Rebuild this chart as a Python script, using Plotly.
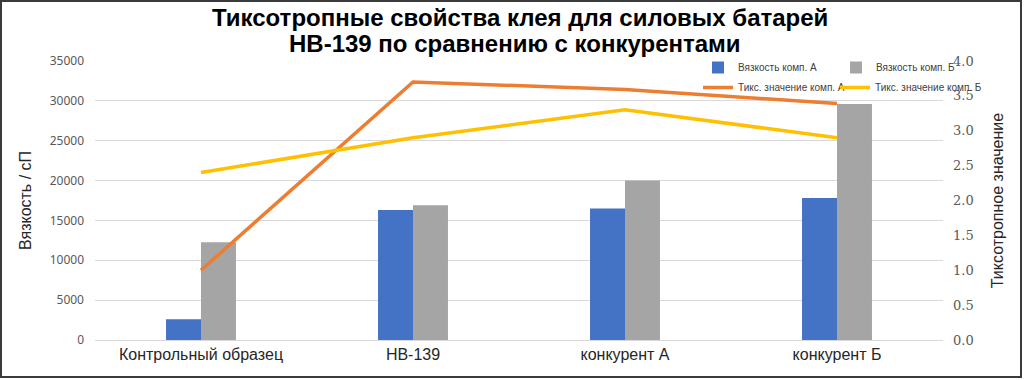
import plotly.graph_objects as go

categories = ["Контрольный образец", "НВ-139", "конкурент А", "конкурент Б"]
visc_a = [2600, 16300, 16500, 17800]
visc_b = [12250, 16900, 20000, 29600]
thix_a = [1.0, 3.70, 3.59, 3.39]
thix_b = [2.40, 2.90, 3.30, 2.90]

title_line1 = "Тиксотропные свойства клея для силовых батарей"
title_line2 = "НВ-139 по сравнению с конкурентами"
y1_ticks = [0, 5000, 10000, 15000, 20000, 25000, 30000, 35000]
y2_ticks = [0, 0.5, 1.0, 1.5, 2.0, 2.5, 3.0, 3.5, 4.0]

W, H = 1024, 380
L, R, T, B = 95, 81, 61, 40

fig = go.Figure()
fig.add_trace(go.Bar(x=categories, y=visc_a, name="Вязкость комп. А",
                     marker=dict(color="#4472C4", line=dict(width=0)), legend="legend"))
fig.add_trace(go.Bar(x=categories, y=visc_b, name="Вязкость комп. Б",
                     marker=dict(color="#A5A5A5", line=dict(width=0)), legend="legend"))
fig.add_trace(go.Scatter(x=categories, y=thix_a, name="Тикс. значение комп. А", mode="lines",
                         line=dict(color="#ED7D31", width=3.5), yaxis="y2", legend="legend2"))
fig.add_trace(go.Scatter(x=categories, y=thix_b, name="Тикс. значение комп. Б", mode="lines",
                         line=dict(color="#FFC000", width=3.5), yaxis="y2", legend="legend3"))

pw = W - L - R
ph = H - T - B

leg_font = dict(family="Liberation Sans", size=10, color="#404040")

fig.update_layout(
    width=W, height=H,
    margin=dict(l=L, r=R, t=T, b=B, autoexpand=False),
    paper_bgcolor="white", plot_bgcolor="white",
    barmode="group", bargap=0.67, bargroupgap=0,
    title=dict(text="<b>" + title_line1 + "</b>", x=0.508, xanchor="center",
               y=1 - 18 / H, yanchor="middle", yref="container",
               font=dict(family="Liberation Sans", size=24, color="#000000")),
    annotations=[dict(text="<b>" + title_line2 + "</b>", xref="paper", yref="paper",
                      x=(515 - L) / pw, y=1 + (T - 43) / ph, xanchor="center", yanchor="middle",
                      showarrow=False,
                      font=dict(family="Liberation Sans", size=24, color="#000000"))],
    xaxis=dict(showgrid=False, showline=True, linecolor="#D9D9D9", linewidth=1, automargin=False,
               ticks="", tickfont=dict(family="Liberation Sans", size=16, color="#262626")),
    yaxis=dict(range=[0, 35000], tickvals=y1_ticks, tickformat="d", showgrid=True, gridcolor="#D9D9D9",
               gridwidth=1, zeroline=False, showline=False, ticks="", automargin=False,
               ticklabelstandoff=10,
               tickfont=dict(family="Noto Sans", size=12, color="#595959"),
               title=dict(text="Вязкость / сП", standoff=14,
                          font=dict(family="Liberation Sans", size=16, color="#262626"))),
    yaxis2=dict(range=[0, 4], tickvals=y2_ticks, tickformat=".1f", overlaying="y", side="right",
                showgrid=False, zeroline=False, showline=False, ticks="", automargin=False,
                ticklabelstandoff=9,
                tickfont=dict(family="DejaVu Serif", size=13, color="#595959"),
                title=dict(text="Тиксотропное значение", standoff=19,
                           font=dict(family="Liberation Sans", size=16, color="#262626"))),
    legend=dict(orientation="h", x=(698 - L) / pw, y=1 + 8 / ph, xanchor="left", yanchor="top",
                bgcolor="rgba(0,0,0,0)", entrywidth=93, entrywidthmode="pixels",
                font=leg_font, traceorder="normal"),
    legend2=dict(orientation="h", x=(698 - L) / pw, y=1 - 12 / ph, xanchor="left", yanchor="top",
                 bgcolor="rgba(0,0,0,0)", font=leg_font),
    legend3=dict(orientation="h", x=(835 - L) / pw, y=1 - 12 / ph, xanchor="left", yanchor="top",
                 bgcolor="rgba(0,0,0,0)", font=leg_font),
    shapes=[dict(type="rect", xref="paper", yref="paper",
                 x0=(1 - L) / pw, x1=(1021 - L) / pw,
                 y0=-(377 - (H - B)) / ph, y1=1 + (T - 1) / ph,
                 line=dict(color="#3A3A3A", width=2), fillcolor="rgba(0,0,0,0)", layer="above")],
)

fig.write_html("out.html")
